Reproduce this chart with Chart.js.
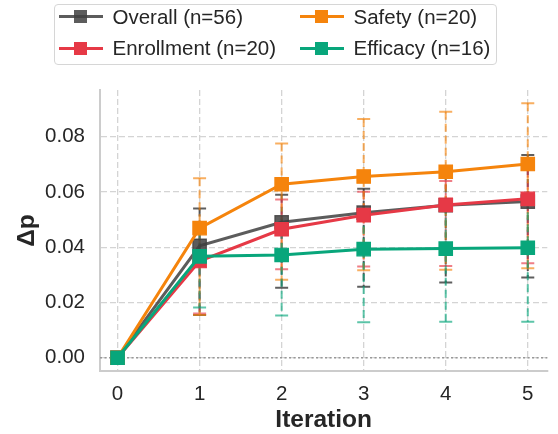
<!DOCTYPE html>
<html>
<head>
<meta charset="utf-8">
<script src="https://cdn.jsdelivr.net/npm/chart.js@4.4.1/dist/chart.umd.min.js"></script>
<style>
  body { margin: 0; background: #fff; }
  #wrap { position: relative; width: 558px; height: 434px; }
  #legend {
    position: absolute; left: 54px; top: 4px; width: 443px; height: 61px;
    box-sizing: border-box; border: 1.5px solid #d6d6d6; border-radius: 4px; background: #fff;
    font: 20.5px "Liberation Sans", Arial, sans-serif; color: #262626;
  }
  .item { position: absolute; height: 26px; display: flex; align-items: center; white-space: nowrap; }
  .handle { position: relative; width: 44px; height: 14px; margin-right: 10px; }
  .handle .ln { position: absolute; left: 0; right: 0; top: 5.5px; height: 3px; }
  .handle .sq { position: absolute; left: 15.5px; top: 0.5px; width: 13px; height: 13px; }
</style>
</head>
<body>
<div id="wrap">
  <canvas id="chart" width="558" height="434"></canvas>
  <div id="legend"></div>
</div>
<script>
// x positions and tick labels
const iterations = [0, 1, 2, 3, 4, 5];
const xTicks = [0, 1, 2, 3, 4, 5];
const yTicks = [0, 0.02, 0.04, 0.06, 0.08];

const seriesNames = ['Overall (n=56)', 'Enrollment (n=20)', 'Safety (n=20)', 'Efficacy (n=16)'];

// mean delta p and interval ends
const overallMean = [0, 0.0405, 0.049, 0.0525, 0.0552, 0.0565];
const overallLow  = [0, 0.0155, 0.0253, 0.0257, 0.0272, 0.029];
const overallHigh = [0, 0.054, 0.059, 0.0612, 0.067, 0.0734];

const enrollMean = [0, 0.035, 0.0465, 0.0516, 0.0553, 0.0575];
const enrollLow  = [0, 0.016, 0.032, 0.033, 0.0332, 0.0342];
const enrollHigh = [0, 0.046, 0.0573, 0.0601, 0.064, 0.068];

const safetyMean = [0, 0.0469, 0.0628, 0.0656, 0.0673, 0.0701];
const safetyLow  = [0, 0.0155, 0.0282, 0.0317, 0.0318, 0.0324];
const safetyHigh = [0, 0.065, 0.0775, 0.0864, 0.089, 0.0921];

const efficacyMean = [0, 0.0367, 0.0372, 0.0393, 0.0395, 0.0398];
const efficacyLow  = [0, 0.0182, 0.0153, 0.0128, 0.013, 0.013];
const efficacyHigh = [0, 0.046, 0.046, 0.052, 0.055, 0.057];

const lineColors = ['rgba(64,64,64,0.85)', '#e63946', '#f5840c', '#08a67b'];
const errColors = ['rgba(40,40,40,0.75)', 'rgba(230,57,70,0.65)', 'rgba(245,132,12,0.65)', 'rgba(8,166,123,0.65)'];

const FONT = '"Liberation Sans", Arial, sans-serif';
Chart.defaults.font.family = FONT;
Chart.defaults.color = '#262626';

function points(mean, low, high) {
  return iterations.map((x, i) => ({ x: x, y: mean[i], lo: low[i], hi: high[i] }));
}

const allData = [
  points(overallMean, overallLow, overallHigh),
  points(enrollMean, enrollLow, enrollHigh),
  points(safetyMean, safetyLow, safetyHigh),
  points(efficacyMean, efficacyLow, efficacyHigh)
];

// error bars + dotted zero line, under all the lines
const errorBars = {
  id: 'errorBars',
  beforeDatasetsDraw(chart) {
    const { ctx, chartArea, scales: { x, y } } = chart;
    ctx.save();
    const y0 = y.getPixelForValue(0);
    ctx.strokeStyle = '#999999';
    ctx.lineWidth = 1.5;
    ctx.setLineDash([2, 2.5]);
    ctx.beginPath();
    ctx.moveTo(chartArea.left, y0);
    ctx.lineTo(chartArea.right, y0);
    ctx.stroke();

    chart.data.datasets.forEach(ds => {
      ctx.strokeStyle = ds.errColor;
      ctx.lineWidth = 2;
      ds.data.forEach(p => {
        if (p.hi === p.lo) return;
        const px = x.getPixelForValue(p.x);
        const top = y.getPixelForValue(p.hi);
        const bot = y.getPixelForValue(p.lo);
        ctx.setLineDash([8, 4]);
        ctx.beginPath();
        ctx.moveTo(px, top);
        ctx.lineTo(px, bot);
        ctx.stroke();
        ctx.setLineDash([]);
        ctx.beginPath();
        ctx.moveTo(px - 6.5, top); ctx.lineTo(px + 6.5, top);
        ctx.moveTo(px - 6.5, bot); ctx.lineTo(px + 6.5, bot);
        ctx.stroke();
      });
    });
    ctx.restore();
  }
};

const tickFont = { size: 20.5 };
const titleFont = { size: 24.5, weight: 'bold', lineHeight: 1.1 };

const chart = new Chart(document.getElementById('chart').getContext('2d'), {
  type: 'line',
  data: {
    datasets: seriesNames.map((name, i) => ({
      label: name,
      data: allData[i],
      borderColor: lineColors[i],
      backgroundColor: lineColors[i],
      errColor: errColors[i],
      order: 4 - i
    }))
  },
  options: {
    responsive: false,
    animation: false,
    layout: { padding: { top: 90, right: 0, bottom: 0, left: 0 } },
    plugins: { legend: { display: false }, tooltip: { enabled: false } },
    elements: {
      line: { tension: 0, borderWidth: 3 },
      point: { pointStyle: 'rect', radius: 9.5, borderWidth: 1.2, borderColor: '#ffffff' }
    },
    scales: {
      x: {
        type: 'linear',
        min: -0.214,
        max: 5.238,
        afterBuildTicks: s => { s.ticks = xTicks.map(v => ({ value: v })); },
        afterFit: s => { s.height = 63; },
        ticks: { font: tickFont, padding: 11, color: '#262626', callback: v => String(v) },
        grid: { color: '#d4d4d4', lineWidth: 1.3, drawTicks: false },
        border: { color: '#cccccc', width: 2, dash: [6, 3] },
        title: { display: true, text: 'Iteration', font: titleFont, padding: { top: 0, bottom: 0 }, color: '#262626' }
      },
      y: {
        min: -0.0048,
        max: 0.0969,
        afterBuildTicks: s => { s.ticks = yTicks.map(v => ({ value: v })); },
        afterFit: s => { s.width = 100; },
        ticks: { font: tickFont, padding: 15, color: '#262626', callback: v => v.toFixed(2) },
        grid: { color: '#d4d4d4', lineWidth: 1.3, drawTicks: false },
        border: { color: '#cccccc', width: 2, dash: [6, 3] },
        title: { display: true, text: 'Δp', font: titleFont, padding: { top: 14, bottom: 0 }, color: '#262626' }
      }
    }
  },
  plugins: [errorBars]
});

// legend: two columns, filled column by column like the original
function buildLegend() {
  const box = document.getElementById('legend');
  chart.data.datasets.forEach((ds, i) => {
    const col = Math.floor(i / 2), row = i % 2;
    const item = document.createElement('div');
    item.className = 'item';
    item.style.left = (3.5 + col * 241) + 'px';
    item.style.top = (-1.5 + row * 31.5) + 'px';
    item.innerHTML = '<span class="handle"><span class="ln"></span><span class="sq"></span></span><span></span>';
    item.querySelector('.ln').style.background = ds.borderColor;
    item.querySelector('.sq').style.background = ds.borderColor;
    item.lastChild.textContent = ds.label;
    box.appendChild(item);
  });
}
buildLegend();
</script>
</body>
</html>
